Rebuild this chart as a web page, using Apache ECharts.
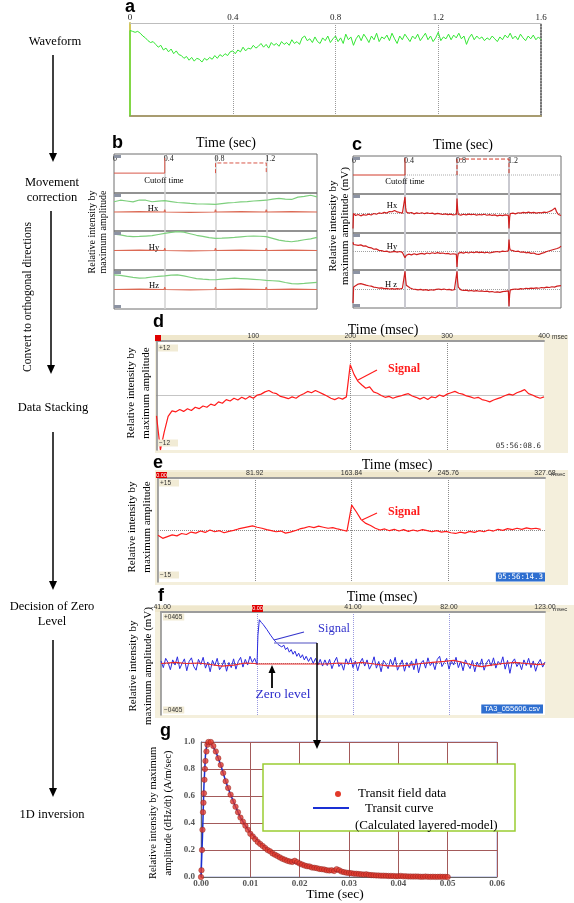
<!DOCTYPE html>
<html>
<head>
<meta charset="utf-8">
<title>TEM data processing flow</title>
<script src="https://cdn.jsdelivr.net/npm/echarts@6/dist/echarts.min.js"></script>
<style>
html,body{margin:0;padding:0;background:#fff;}
#chart{width:574px;height:903px;}
</style>
</head>
<body>
<div id="chart"></div>
<script>
// ================= DATA =================
// Panel a : raw waveform (sampled every 0.01 s)
const aStep = 0.01;
const aStart = 0;
const aWave = [
0.92,0.91,0.90,0.91,0.89,0.86,0.84,0.81,0.79,0.80,
0.77,0.74,0.76,0.71,0.73,0.69,0.72,0.67,0.70,0.66,
0.65,0.62,0.64,0.60,0.63,0.59,0.62,0.61,0.58,0.62,
0.60,0.63,0.61,0.65,0.62,0.66,0.64,0.67,0.65,0.69,
0.70,0.67,0.71,0.69,0.74,0.70,0.73,0.72,0.76,0.73,
0.75,0.78,0.74,0.77,0.73,0.79,0.76,0.78,0.75,0.80,
0.77,0.79,0.76,0.82,0.78,0.80,0.77,0.84,0.86,0.81,
0.83,0.79,0.85,0.80,0.78,0.84,0.81,0.86,0.79,0.83,
0.86,0.80,0.84,0.78,0.88,0.82,0.85,0.76,0.83,0.87,
0.81,0.88,0.84,0.79,0.86,0.82,0.89,0.80,0.85,0.83,
0.87,0.81,0.89,0.83,0.78,0.86,0.82,0.88,0.84,0.80,
0.86,0.83,0.88,0.81,0.85,0.89,0.82,0.86,0.80,0.84,
0.90,0.81,0.85,0.83,0.88,0.82,0.87,0.84,0.89,0.83,
0.86,0.77,0.84,0.88,0.82,0.86,0.83,0.85,0.81,0.84,
0.82,0.86,0.83,0.80,0.85,0.82,0.87,0.84,0.89,0.83,
0.86,0.82,0.88,0.84,0.81,0.86,0.83,0.87,0.82,0.85,
0.82];

// Panel b : movement correction (green = raw, red = corrected), step 0.05 s
const bStep = 0.05;
const bHxGreen = [0.54,0.62,0.58,0.53,0.63,0.62,0.54,0.57,0.60,0.55,0.50,0.48,0.45,0.43,0.42,0.41,0.40,0.44,0.48,0.50,0.53,0.55,0.58,0.60,0.62,0.68,0.72,0.68,0.66,0.78,0.82,0.88,0.80];
const bHyGreen = [0.84,0.80,0.74,0.71,0.72,0.74,0.76,0.82,0.88,0.93,0.97,0.94,0.86,0.78,0.72,0.66,0.62,0.63,0.65,0.67,0.70,0.73,0.74,0.73,0.71,0.62,0.53,0.48,0.45,0.49,0.55,0.60,0.67];
const bHzGreen = [0.75,0.72,0.67,0.62,0.58,0.60,0.64,0.67,0.70,0.74,0.75,0.70,0.63,0.56,0.53,0.51,0.50,0.53,0.56,0.58,0.56,0.54,0.52,0.50,0.47,0.45,0.43,0.36,0.30,0.29,0.31,0.34,0.37];
const bRedT = [0,0.2,0.395,0.4,0.405,0.6,0.795,0.8,0.805,1.0,1.195,1.2,1.205,1.4,1.6];
const bRedV = [0,0.02,0,0.12,0,-0.02,0,0.12,0,0.02,0,0.12,0,0.02,0];
const bCutSolid = [[0,0.51],[0.4,0.51],[0.4,0.9]];
const bCutDash = [[0.8,0.51],[0.8,0.77],[1.2,0.77],[1.2,0.51]];

// Panel c : orthogonal components
const cCutSolid = [[0,0.5],[0.4,0.5],[0.4,0.95]];
const cCutDash = [[0.8,0.5],[0.8,0.92],[1.2,0.92],[1.2,0.5]];
const cCutBase = [[0.4,0.5],[1.6,0.5]];
const cHx = [[0,-0.77],[0.004,0.0],[0.02,-0.1],[0.04,-0.05],[0.06,-0.12],[0.08,-0.06],[0.1,-0.09],[0.12,-0.03],[0.14,-0.08],[0.16,0.0],[0.18,-0.04],[0.2,0.03],[0.22,0.0],[0.24,0.06],[0.26,0.02],[0.28,0.1],[0.3,0.09],[0.32,0.15],[0.34,0.08],[0.36,0.05],[0.38,0.02],[0.395,0.03],[0.4,0.85],[0.405,0.3],[0.41,0.08],[0.43,0.02],[0.45,0.05],[0.47,-0.02],[0.49,0.03],[0.51,0.0],[0.53,0.04],[0.55,-0.01],[0.57,0.03],[0.59,0.0],[0.61,0.02],[0.63,-0.03],[0.65,0.01],[0.67,-0.02],[0.69,-0.05],[0.71,-0.02],[0.73,-0.06],[0.75,-0.03],[0.77,-0.07],[0.795,-0.05],[0.8,0.77],[0.805,0.2],[0.81,-0.05],[0.83,-0.08],[0.85,-0.04],[0.87,-0.07],[0.89,-0.03],[0.91,-0.06],[0.93,-0.04],[0.95,-0.08],[0.97,-0.05],[0.99,-0.07],[1.01,-0.04],[1.03,-0.09],[1.05,-0.06],[1.07,-0.1],[1.09,-0.07],[1.11,-0.12],[1.13,-0.08],[1.15,-0.11],[1.17,-0.07],[1.195,-0.1],[1.2,-0.77],[1.205,-0.2],[1.21,0.0],[1.23,0.02],[1.25,-0.02],[1.27,0.04],[1.29,0.02],[1.31,0.06],[1.33,0.03],[1.35,0.07],[1.37,0.03],[1.39,0.06],[1.41,0.02],[1.43,0.05],[1.45,0.03],[1.47,0.07],[1.49,0.05],[1.51,0.1],[1.53,0.16],[1.545,0.22],[1.555,0.28],[1.565,0.1],[1.58,-0.05],[1.6,-0.1]];
const cHy = [[0,0.5],[0.005,0.38],[0.02,0.4],[0.04,0.33],[0.06,0.36],[0.08,0.29],[0.1,0.3],[0.12,0.22],[0.14,0.2],[0.16,0.12],[0.18,0.14],[0.2,0.06],[0.22,0.05],[0.24,0.0],[0.26,0.02],[0.28,-0.04],[0.3,-0.02],[0.32,0.01],[0.34,-0.03],[0.36,0.0],[0.38,-0.05],[0.395,-0.06],[0.4,-0.34],[0.41,-0.2],[0.43,-0.14],[0.45,-0.18],[0.47,-0.12],[0.49,-0.17],[0.51,-0.13],[0.53,-0.1],[0.55,-0.14],[0.57,-0.08],[0.59,-0.12],[0.61,-0.07],[0.63,-0.11],[0.65,-0.06],[0.67,-0.1],[0.69,-0.08],[0.71,-0.12],[0.73,-0.1],[0.75,-0.15],[0.77,-0.12],[0.795,-0.16],[0.8,-0.83],[0.805,-0.3],[0.81,-0.1],[0.83,-0.05],[0.85,-0.09],[0.87,-0.04],[0.89,-0.08],[0.91,-0.03],[0.93,-0.07],[0.95,-0.02],[0.97,-0.06],[0.99,-0.03],[1.01,-0.07],[1.03,-0.04],[1.05,-0.08],[1.07,-0.05],[1.09,-0.02],[1.11,0.0],[1.13,-0.03],[1.15,0.02],[1.17,0.0],[1.195,0.03],[1.2,0.65],[1.205,0.2],[1.21,0.08],[1.23,0.05],[1.25,0.0],[1.27,0.02],[1.29,-0.04],[1.31,-0.02],[1.33,-0.07],[1.35,-0.05],[1.37,-0.1],[1.39,-0.08],[1.41,-0.14],[1.43,-0.16],[1.45,-0.1],[1.47,-0.06],[1.49,0.0],[1.51,0.04],[1.53,0.08],[1.55,0.12],[1.57,0.16],[1.59,0.22],[1.6,0.29]];
const cHz = [[0,-0.74],[0.005,0.1],[0.02,0.2],[0.04,0.26],[0.06,0.28],[0.08,0.24],[0.1,0.2],[0.12,0.17],[0.14,0.15],[0.16,0.1],[0.18,0.08],[0.2,0.05],[0.22,0.06],[0.24,0.02],[0.26,0.03],[0.28,0.0],[0.3,0.02],[0.32,-0.01],[0.34,0.02],[0.36,0.0],[0.38,0.04],[0.395,0.02],[0.4,0.93],[0.405,0.5],[0.41,0.2],[0.42,0.1],[0.44,0.05],[0.46,0.0],[0.48,-0.02],[0.5,-0.05],[0.52,-0.02],[0.54,-0.06],[0.56,-0.03],[0.58,-0.07],[0.6,-0.04],[0.62,-0.06],[0.64,-0.02],[0.66,0.0],[0.68,-0.03],[0.7,0.0],[0.72,-0.04],[0.74,-0.02],[0.76,-0.06],[0.78,-0.04],[0.795,-0.07],[0.8,0.93],[0.805,0.4],[0.81,0.1],[0.83,-0.05],[0.85,-0.08],[0.87,-0.06],[0.89,-0.1],[0.91,-0.08],[0.93,-0.11],[0.95,-0.09],[0.97,-0.12],[0.99,-0.1],[1.01,-0.13],[1.03,-0.11],[1.05,-0.15],[1.07,-0.13],[1.09,-0.17],[1.11,-0.15],[1.13,-0.18],[1.15,-0.14],[1.17,-0.12],[1.195,-0.1],[1.2,-0.91],[1.205,-0.3],[1.21,-0.05],[1.23,-0.02],[1.25,0.0],[1.27,-0.02],[1.29,0.02],[1.31,0.0],[1.33,0.04],[1.35,0.02],[1.37,0.05],[1.39,0.03],[1.41,0.06],[1.43,0.04],[1.45,0.08],[1.47,0.06],[1.49,0.1],[1.51,0.08],[1.53,0.12],[1.55,0.1],[1.57,0.15],[1.6,0.18]];

// Panel d : stacked data, step 4 ms
const dStep = 4;
const dSig = [
-4.5,-12,-8.0,-4.6,-3.4,-3.6,-3.1,-3.5,-2.9,-3.3,
-2.6,-2.9,-2.3,-2.6,-1.9,-2.2,-1.4,-1.7,-0.9,-1.2,
-0.6,-1.0,-0.4,-0.8,-0.2,-0.6,0.1,0.3,0.8,1.1,
0.6,0.4,-0.2,-0.4,-0.7,-0.3,-0.6,0.0,0.4,0.9,
0.6,1.1,0.7,0.3,-0.1,-0.6,-0.9,-0.5,-0.8,-0.3,
6.8,4.6,3.1,2.3,1.6,1.9,0.8,0.5,0.0,-0.4,
-0.2,-0.6,-0.3,-0.1,0.2,0.4,-0.1,-0.4,-0.8,-0.4,
-0.9,-0.3,-0.5,0.1,-0.2,0.3,0.6,0.9,0.5,0.3,
-0.1,-0.3,-0.6,-0.4,-0.9,-1.1,-1.4,-1.0,-0.7,-0.4,
0.0,0.3,0.1,0.6,0.9,1.3,0.4,0.1,-0.3,-0.6,
-0.3];

// Panel e : stacked data, step 4 ms
const eStep = 4;
const eSig = [
-1.5,-2.4,-1.9,-1.4,-1.7,-1.0,-1.3,-0.6,-0.9,-0.3,
-0.7,0.0,-0.5,-0.2,-0.8,-0.4,-0.1,0.3,0.6,0.9,
1.2,0.8,0.5,0.1,-0.2,-0.5,-0.3,-0.9,-0.6,-0.2,
0.3,0.6,1.0,0.7,1.1,0.8,0.5,0.7,0.3,0.0,
-0.3,7.2,5.2,3.0,1.9,1.3,0.5,0.0,0.3,-0.2,
0.2,-0.3,0.1,-0.4,0.0,-0.3,0.1,-0.2,-0.5,-0.2,
-0.6,-0.4,-0.8,-1.0,-0.6,-0.9,-0.4,-0.7,-0.2,-0.5,
0.0,-0.3,0.2,-0.1,0.4,0.1,0.5,0.2,0.6,0.3,
0.5,0.2];

// Panel f : zero level decision (blue = stacked data, red = zero level), step 1 ms
const fStep = 1;
const fPreStart = -41;
const fBluePre = [
0.05,-0.08,0.10,0.02,-0.12,0.07,-0.03,0.13,-0.10,0.00,
0.09,-0.14,0.04,0.11,-0.06,-0.13,0.08,-0.02,0.12,-0.09,
0.03,-0.16,0.06,-0.04,0.10,-0.12,-0.05,0.07,-0.15,0.02,
-0.08,0.09,-0.11,0.04,0.12,-0.07,0.08,-0.03,0.14,0.02,
0.10];
const fBlueSig = [[0,-0.02],[0.4,0.55],[1.0,0.85],[1.8,0.8],[2.6,0.76],[3.4,0.73],[4.2,0.66],[5.0,0.63],[5.8,0.55],[6.6,0.53],[7.4,0.45],[8.2,0.45],[9.0,0.37],[9.8,0.4],[10.6,0.32],[11.4,0.36],[12.2,0.27],[13.0,0.31],[13.8,0.22],[14.6,0.27],[15.4,0.18],[16.2,0.24],[17.0,0.14],[17.8,0.2],[18.6,0.11],[19.4,0.17],[20.2,0.07],[21,0.14],[22,0.04],[23,0.12],[24,0.0],[25,0.1],[26,-0.03],[27,0.08],[28,-0.05],[29,0.07],[30,-0.04]];
const fPostStart = 31;
const fBluePost = [
0.08,-0.10,0.03,0.12,-0.06,0.01,-0.13,0.09,-0.02,0.11,
-0.08,0.05,-0.14,0.02,0.10,-0.05,0.07,-0.11,-0.02,0.13,
-0.09,0.04,-0.16,0.06,0.00,-0.10,0.08,-0.04,0.12,-0.13,
-0.03,0.07,-0.15,0.02,-0.08,0.05,-0.12,0.09,-0.18,0.01,
0.06,-0.09,0.11,-0.04,0.03,-0.12,0.08,0.14,-0.06,0.02,
0.10,-0.11,0.05,-0.03,0.12,-0.08,0.04,-0.14,0.07,-0.02,
-0.10,0.06,-0.16,0.03,-0.07,0.09,-0.13,0.01,0.08,-0.05,
0.11,-0.09,0.04,-0.02,0.13,-0.11,0.06,-0.19,0.03,0.09,
-0.06,0.02,-0.12,0.07,-0.04,0.10,-0.08,0.05,-0.15,0.00,
0.08,-0.07,0.03];
const fZero = [[-41,0.0],[-35,0.02],[-30,0.0],[-25,0.01],[-20,-0.02],[-15,-0.05],[-10,-0.03],[-5,0.01],[-1,0.0],[0,-0.01],[30,-0.01],[35,0.01],[40,0.0],[45,0.02],[50,-0.01],[55,-0.04],[60,-0.05],[65,-0.03],[70,0.0],[75,0.02],[80,0.04],[84,0.06],[88,0.02],[92,-0.03],[96,-0.06],[100,-0.03],[105,0.0],[110,0.02],[115,0.0],[120,-0.02],[123,-0.01]];

// Panel g : 1D inversion (normalised dHz/dt)
const gRise = [[0,0],[0.0001,0.05],[0.0002,0.2],[0.0003,0.35],[0.0004,0.48],[0.0005,0.55],[0.0006,0.62],[0.0007,0.72],[0.0008,0.8],[0.0009,0.86],[0.0011,0.93],[0.0013,0.98]];
const gDecayStart = 0.0015, gDecayStep = 0.0005;
const gDecay = [
1.00,1.00,0.97,0.93,0.88,0.83,0.77,0.71,0.66,0.61,
0.56,0.52,0.48,0.44,0.41,0.38,0.35,0.32,0.30,0.28,
0.26,0.245,0.23,0.215,0.20,0.19,0.175,0.165,0.155,0.145,
0.135,0.128,0.12,0.115,0.112,0.12,0.11,0.10,0.092,0.085,
0.08,0.078,0.07,0.068,0.065,0.06,0.058,0.055,0.05,0.048,
0.05,0.045,0.058,0.05,0.04,0.036,0.032,0.03,0.028,0.025,
0.024,0.022,0.02,0.018,0.02,0.016,0.014,0.013,0.012,0.011,
0.01,0.01,0.009,0.008,0.008,0.007,0.006,0.006,0.008,0.005,
0.005,0.004,0.004,0.003,0.004,0.003,0.002,0.002,0.003,0.002,
0.001,0.002,0.001,0.001,0.002,0.001,0.001,0.0];
const gCurve = [[0,0],[0.0003,0.3],[0.0006,0.68],[0.0009,0.9],[0.0012,0.99],[0.0016,1.0],[0.002,0.99],[0.003,0.93],[0.004,0.83],[0.005,0.71],[0.006,0.61],[0.007,0.52],[0.008,0.44],[0.009,0.38],[0.010,0.33],[0.012,0.25],[0.014,0.19],[0.016,0.145],[0.018,0.115],[0.020,0.095],[0.022,0.078],[0.024,0.062],[0.026,0.05],[0.028,0.04],[0.030,0.032],[0.033,0.022],[0.036,0.015],[0.040,0.009],[0.045,0.004],[0.050,0.001]];

// ================= BUILD =================
const SERIF = 'Liberation Serif', SANS = 'Liberation Sans', MONO = 'DejaVu Sans Mono';
const grids = [], xAxis = [], yAxis = [], series = [], gfx = [];
const seq = (t0, step, vals) => vals.map((v, i) => [+(t0 + i * step).toFixed(6), v]);
const zip = (ts, vs) => ts.map((t, i) => [t, vs[i]]);
function AL(color, width, type) { return {show: true, onZero: false, lineStyle: {color: color, width: width || 1, type: type || 'solid'}}; }
function addGrid(o) { grids.push(Object.assign({containLabel: false}, o)); return grids.length - 1; }
function ax(gi, min, max, extra) {
  return Object.assign({type: 'value', gridIndex: gi, min: min, max: max,
    axisLine: {show: false, onZero: false}, axisTick: {show: false},
    axisLabel: {show: false}, splitLine: {show: false}}, extra || {});
}
function addX(o) { xAxis.push(o); return xAxis.length - 1; }
function addY(o) { yAxis.push(o); return yAxis.length - 1; }
function addLine(xi, yi, data, color, width, type, z) {
  series.push({type: 'line', xAxisIndex: xi, yAxisIndex: yi, data: data, symbol: 'none', showSymbol: false,
    silent: true, z: z || 2, lineStyle: {color: color, width: width || 1, type: type || 'solid'}, itemStyle: {color: color}});
}
function txt(text, x, y, o) {
  o = o || {};
  return {type: 'text', x: x, y: y, z: o.z || 30, rotation: o.rot || 0,
    style: {text: text, fill: o.color || '#000', fontSize: o.size || 12, fontFamily: o.font || SERIF,
      fontWeight: o.weight || 'normal', align: o.align || 'center', verticalAlign: o.valign || 'middle',
      lineHeight: o.lh, backgroundColor: o.bg, padding: o.pad}};
}
function ln(x1, y1, x2, y2, color, w, dash) {
  return {type: 'line', z: 30, shape: {x1: x1, y1: y1, x2: x2, y2: y2}, style: {stroke: color || '#000', lineWidth: w || 1, lineDash: dash}};
}
function poly(points, color) { return {type: 'polygon', z: 30, shape: {points: points}, style: {fill: color || '#000'}}; }
function rect(x, y, w, h, fill, stroke, z, lw) {
  return {type: 'rect', z: (z === undefined ? -10 : z), shape: {x: x, y: y, width: w, height: h}, style: {fill: fill || 'none', stroke: stroke || 'none', lineWidth: lw || 1}};
}
function arrowDown(x, y1, y2, w) { gfx.push(ln(x, y1, x, y2 - 6, '#000', w || 1.5)); gfx.push(poly([[x - 4, y2 - 9], [x + 4, y2 - 9], [x, y2]], '#000')); }
function arrowUp(x, y1, y2, w) { gfx.push(ln(x, y1, x, y2 + 6, '#000', w || 1.5)); gfx.push(poly([[x - 3.5, y2 + 8], [x + 3.5, y2 + 8], [x, y2]], '#000')); }

// ---- flow column ----
gfx.push(txt('Waveform', 55, 42, {size: 12.5}));
arrowDown(53, 55, 162);
gfx.push(txt('Movement\ncorrection', 52, 190, {size: 12.5, lh: 15}));
arrowDown(51, 211, 374);
gfx.push(txt('Convert to orthogonal directions', 28, 297, {size: 11.5, rot: Math.PI / 2}));
gfx.push(txt('Data Stacking', 53, 408, {size: 12.5}));
arrowDown(53, 432, 590);
gfx.push(txt('Decision of Zero\nLevel', 52, 614, {size: 12.5, lh: 15}));
arrowDown(53, 640, 797);
gfx.push(txt('1D inversion', 52, 815, {size: 12.5}));

// ---- panel a ----
(function () {
  const gi = addGrid({left: 130, top: 23, width: 411, height: 93});
  const xi = addX(ax(gi, 0, 1.6, {interval: 0.4, position: 'top', axisLine: AL('#bdbdbd', 1),
    axisLabel: {show: true, margin: 1, fontSize: 9, fontFamily: SERIF, color: '#222', formatter: v => v === 0 ? '0' : v.toFixed(1)},
    splitLine: {show: true, showMinLine: false, showMaxLine: false, lineStyle: {type: 'dotted', color: '#9a9a9a'}}}));
  addX(ax(gi, 0, 1.6, {position: 'bottom', axisLine: AL('#a89c70', 2)}));
  const yi = addY(ax(gi, 0, 1, {position: 'left', axisLine: AL('#d2c85a', 2)}));
  addY(ax(gi, 0, 1, {position: 'right', axisLine: AL('#444', 1.5, 'dotted')}));
  addLine(xi, yi, [[0, aStart]].concat(seq(0, aStep, aWave)), '#33e633', 1);
  gfx.push(txt('a', 125, 7, {font: SANS, weight: 'bold', size: 18, align: 'left'}));
})();

// ---- panels b & c ----
function subPanels(left, width, bands, vColor, vWidth, tagX) {
  const out = [];
  bands.forEach((b, k) => {
    const gi = addGrid({left: left, top: b[0], width: width, height: b[1], show: true, borderColor: '#6f6f6f', borderWidth: 1});
    const xo = {interval: 0.4, splitLine: {show: true, showMinLine: false, showMaxLine: false, lineStyle: {color: vColor, width: vWidth}}};
    if (k === 0) {
      xo.position = 'top';
      xo.axisLabel = {show: true, inside: true, margin: 1, fontSize: 8, fontFamily: SERIF, color: '#222', align: 'left',
        padding: [0, 0, 0, -1], showMaxLabel: false, formatter: v => v === 0 ? '0' : v.toFixed(1)};
    }
    const xi = addX(ax(gi, 0, 1.6, xo));
    const yi = addY(k === 0 ? ax(gi, 0, 1) : ax(gi, -1, 1));
    out.push([xi, yi]);
    gfx.push(rect(tagX, b[0] + 1, 7, 3, '#8c93a3', null, 25));
  });
  gfx.push(rect(tagX, bands[3][0] + bands[3][1] - 4, 7, 3, '#8c93a3', null, 25));
  return out;
}
(function () {
  const p = subPanels(114, 203, [[154, 39], [193, 38], [231, 39], [270, 39]], '#d2d2d2', 1.5, 114);
  addLine(p[0][0], p[0][1], bCutSolid, '#d8584a', 1);
  addLine(p[0][0], p[0][1], bCutDash, '#d8584a', 1, 'dashed');
  const greens = [bHxGreen, bHyGreen, bHzGreen];
  for (let k = 0; k < 3; k++) {
    addLine(p[k + 1][0], p[k + 1][1], seq(0, bStep, greens[k]), '#7dcf7d', 1.2);
    addLine(p[k + 1][0], p[k + 1][1], zip(bRedT, bRedV), '#dc6a55', 1.2);
  }
  gfx.push(txt('b', 112, 143, {font: SANS, weight: 'bold', size: 18, align: 'left'}));
  gfx.push(txt('Time (sec)', 226, 143, {size: 14}));
  gfx.push(txt('Cutoff time', 164, 181, {size: 8.5}));
  gfx.push(txt('Hx', 153, 209, {size: 8.5}));
  gfx.push(txt('Hy', 154, 248, {size: 8.5}));
  gfx.push(txt('Hz', 154, 286, {size: 8.5}));
  gfx.push(txt('Relative intensity by', 92, 232, {size: 10, rot: Math.PI / 2}));
  gfx.push(txt('maximum amplitude', 103, 232, {size: 10, rot: Math.PI / 2}));
})();
(function () {
  const p = subPanels(353, 208, [[156, 38], [194, 39], [233, 37], [270, 38]], '#c9c9d0', 2, 353);
  addLine(p[0][0], p[0][1], cCutBase, '#aaaaaa', 1, 'dotted');
  addLine(p[0][0], p[0][1], cCutSolid, '#d23a2a', 1);
  addLine(p[0][0], p[0][1], cCutDash, '#d23a2a', 1, 'dashed');
  const reds = [cHx, cHy, cHz];
  for (let k = 0; k < 3; k++) {
    const xi = p[k + 1][0], yi = p[k + 1][1];
    yAxis[yi].interval = 1;
    yAxis[yi].splitLine = {show: true, showMinLine: false, showMaxLine: false, lineStyle: {type: 'dotted', color: '#a0a0a0'}};
    addLine(xi, yi, reds[k], '#cf1f1f', 1.2);
  }
  gfx.push(txt('c', 352, 145, {font: SANS, weight: 'bold', size: 18, align: 'left'}));
  gfx.push(txt('Time (sec)', 463, 145, {size: 14}));
  gfx.push(txt('Cutoff time', 405, 182, {size: 8.5}));
  gfx.push(txt('Hx', 392, 206, {size: 8.5}));
  gfx.push(txt('Hy', 392, 247, {size: 8.5}));
  gfx.push(txt('H z', 391, 285, {size: 8.5}));
  gfx.push(txt('Relative intensity by', 333, 226, {size: 11, rot: Math.PI / 2}));
  gfx.push(txt('maximum amplitude (mV)', 345, 226, {size: 11, rot: Math.PI / 2}));
})();

// ---- stacked-data panels helper ----
function stackPanel(o) {
  gfx.push(rect(o.frame[0], o.frame[1], o.frame[2], o.frame[3], '#f4efdc', null, -10));
  gfx.push(rect(o.frame[0], o.top - 6, o.frame[2] - 24, 6, '#efe7cc', null, -9));
  const gi = addGrid({left: o.left, top: o.top, width: o.width, height: o.height, show: true, backgroundColor: '#fff', borderColor: 'transparent', borderWidth: 0});
  const xi = addX(ax(gi, o.xmin, o.xmax, {interval: o.xint, position: 'top', axisLine: AL('#9c9c9c', 2),
    axisLabel: {show: true, margin: 1, fontSize: 7, fontFamily: SANS, color: '#333', showMinLabel: o.showMin, formatter: o.fmt},
    splitLine: {show: true, showMinLine: false, showMaxLine: false, lineStyle: {type: 'dotted', color: o.vcol || '#8a8a8a'}}}));
  const yi = addY(ax(gi, o.ymin, o.ymax, {interval: o.ymax, axisLine: AL('#8a8a8a', 1.5),
    splitLine: {show: true, showMinLine: false, showMaxLine: false, lineStyle: {type: 'dotted', color: '#8a8a8a'}}}));
  return [xi, yi];
}

// ---- panel d ----
(function () {
  const p = stackPanel({frame: [155, 335, 413, 118], left: 156.5, top: 341, width: 387.5, height: 109,
    xmin: 0, xmax: 400, xint: 100, showMin: false, fmt: v => String(v), ymin: -12, ymax: 12});
  addLine(p[0], p[1], seq(0, dStep, dSig), '#ff1c1c', 1.2);
  gfx.push(rect(155, 335, 6, 6, '#e00000', null, 25));
  gfx.push(txt('msec', 552, 337, {font: SANS, size: 6.5, align: 'left', color: '#333'}));
  gfx.push(txt('+12', 158, 348, {font: SANS, size: 6.5, align: 'left', color: '#333', bg: '#f1ebd5', pad: [0, 8, 0, 1]}));
  gfx.push(txt('\u221212', 158, 443, {font: SANS, size: 6.5, align: 'left', color: '#333', bg: '#f1ebd5', pad: [0, 8, 0, 1]}));
  gfx.push(txt('05:56:08.6', 541, 446, {font: MONO, size: 7.5, align: 'right', color: '#333'}));
  gfx.push(txt('d', 153, 322, {font: SANS, weight: 'bold', size: 18, align: 'left'}));
  gfx.push(txt('Time (msec)', 383, 330, {size: 14}));
  gfx.push(txt('Signal', 388, 369, {size: 12, weight: 'bold', color: '#ff1c1c', align: 'left'}));
  gfx.push(ln(377, 370, 358, 380, '#ff1c1c', 1.2));
  gfx.push(txt('Relative intensity by', 131, 393, {size: 11, rot: Math.PI / 2}));
  gfx.push(txt('maximum amplitude', 146, 393, {size: 11, rot: Math.PI / 2}));
})();

// ---- panel e ----
(function () {
  const p = stackPanel({frame: [155, 470, 413, 115], left: 158, top: 478, width: 387, height: 104,
    xmin: 0, xmax: 327.68, xint: 81.92, showMin: false, fmt: v => v.toFixed(2), ymin: -15, ymax: 15});
  addLine(p[0], p[1], seq(0, eStep, eSig), '#ff1c1c', 1.2);
  gfx.push(rect(156, 472, 11, 6, '#e00000', null, 25));
  gfx.push(txt('0.00', 161.5, 475, {font: SANS, size: 5.5, color: '#fff', z: 26}));
  gfx.push(txt('msec', 551, 474, {font: SANS, size: 6, align: 'left', color: '#333'}));
  gfx.push(txt('+15', 159, 483, {font: SANS, size: 6.5, align: 'left', color: '#333', bg: '#f1ebd5', pad: [0, 8, 0, 1]}));
  gfx.push(txt('\u221215', 159, 575, {font: SANS, size: 6.5, align: 'left', color: '#333', bg: '#f1ebd5', pad: [0, 8, 0, 1]}));
  gfx.push(txt('05:56:14.3', 545, 577, {font: MONO, size: 7.5, align: 'right', color: '#fff', bg: '#2f6fd0', pad: [1, 2, 0, 2]}));
  gfx.push(txt('e', 153, 463, {font: SANS, weight: 'bold', size: 18, align: 'left'}));
  gfx.push(txt('Time (msec)', 397, 465, {size: 14}));
  gfx.push(txt('Signal', 388, 512, {size: 12, weight: 'bold', color: '#ff1c1c', align: 'left'}));
  gfx.push(ln(377, 513, 362, 520, '#ff1c1c', 1.2));
  gfx.push(txt('Relative intensity by', 132, 527, {size: 11, rot: Math.PI / 2}));
  gfx.push(txt('maximum amplitude', 147, 527, {size: 11, rot: Math.PI / 2}));
})();

// ---- panel f ----
(function () {
  const p = stackPanel({frame: [155, 605, 419, 113], left: 161, top: 612, width: 384, height: 103,
    xmin: -41, xmax: 123, xint: 41, showMin: true, vcol: '#9a9ae0', fmt: v => v === 0 ? '' : v.toFixed(2), ymin: -1, ymax: 1});
  const blue = seq(fPreStart, fStep, fBluePre).concat(fBlueSig, seq(fPostStart, fStep, fBluePost));
  addLine(p[0], p[1], blue, '#2b2be0', 1);
  addLine(p[0], p[1], fZero, '#ee2a2a', 1.2, 'solid', 3);
  gfx.push(rect(252, 605, 11, 7, '#e00000', null, 25));
  gfx.push(txt('0.00', 257.5, 608.5, {font: SANS, size: 5.5, color: '#fff', z: 26}));
  gfx.push(txt('msec', 553, 609, {font: SANS, size: 6, align: 'left', color: '#333'}));
  gfx.push(txt('+0465', 163, 617, {font: SANS, size: 6.5, align: 'left', color: '#333', bg: '#f1ebd5', pad: [0, 2, 0, 1]}));
  gfx.push(txt('\u22120465', 163, 710, {font: SANS, size: 6.5, align: 'left', color: '#333', bg: '#f1ebd5', pad: [0, 2, 0, 1]}));
  gfx.push(txt('TA3_055606.csv', 543, 709, {font: SANS, size: 7.5, align: 'right', color: '#fff', bg: '#2f6fd0', pad: [1, 3, 0, 3]}));
  gfx.push(txt('f', 158, 596, {font: SANS, weight: 'bold', size: 18, align: 'left'}));
  gfx.push(txt('Time (msec)', 382, 597, {size: 14}));
  gfx.push(txt('Signal', 318, 629, {size: 12.5, color: '#3333cc', align: 'left'}));
  gfx.push(ln(304, 632, 274, 640, '#3333cc', 1.2));
  gfx.push(ln(274, 643, 317, 643, '#8a8ad6', 1.5));
  gfx.push(ln(317, 643, 317, 740, '#000', 1.5));
  gfx.push(poly([[313, 740], [321, 740], [317, 749]], '#000'));
  gfx.push(txt('Zero level', 283, 694, {size: 13.5, color: '#2b2bcc'}));
  arrowUp(272, 688, 665, 1.8);
  gfx.push(txt('Relative intensity by', 133, 666, {size: 11, rot: Math.PI / 2}));
  gfx.push(txt('maximum amplitude (mV)', 148, 666, {size: 11, rot: Math.PI / 2}));
})();

// ---- panel g ----
(function () {
  const gi = addGrid({left: 201, top: 742, width: 296, height: 135, show: true, borderColor: '#a6acdc', borderWidth: 1});
  const xi = addX(ax(gi, 0, 0.06, {interval: 0.01, position: 'bottom', axisLine: AL('#666', 1),
    axisLabel: {show: true, margin: 2, fontSize: 9, fontWeight: 'bold', fontFamily: SERIF, color: '#555', formatter: v => v.toFixed(2)},
    splitLine: {show: true, lineStyle: {color: '#a35a5a', width: 1}}}));
  const yi = addY(ax(gi, 0, 1, {interval: 0.2, position: 'left', axisLine: AL('#666', 1),
    axisLabel: {show: true, margin: 6, fontSize: 9, fontWeight: 'bold', fontFamily: SERIF, color: '#555', formatter: v => v.toFixed(1)},
    splitLine: {show: true, lineStyle: {color: '#a35a5a', width: 1}}}));
  addLine(xi, yi, gCurve, '#1a30d4', 1.5, 'solid', 3);
  series.push({type: 'scatter', xAxisIndex: xi, yAxisIndex: yi, z: 4, silent: true, symbolSize: 5.5,
    itemStyle: {color: '#e23a2a', borderColor: '#7d1a1a', borderWidth: 0.5},
    data: gRise.concat(seq(gDecayStart, gDecayStep, gDecay))});
  gfx.push(txt('g', 160, 731, {font: SANS, weight: 'bold', size: 18, align: 'left'}));
  gfx.push(txt('Time (sec)', 335, 894, {size: 13.5}));
  gfx.push(txt('Relative intensity by maximum', 153, 813, {size: 10.5, rot: Math.PI / 2}));
  gfx.push(txt('amplitude (dHz/dt) (A/m/sec)', 168, 813, {size: 10.5, rot: Math.PI / 2}));
  gfx.push(rect(263, 764, 252, 67, '#fff', '#9acd32', 40, 1.5));
  gfx.push({type: 'circle', z: 41, shape: {cx: 338, cy: 794, r: 3}, style: {fill: '#e23a2a'}});
  gfx.push(Object.assign(txt('Transit field data', 358, 794, {size: 13, align: 'left'}), {z: 41}));
  gfx.push(Object.assign(ln(313, 808, 349, 808, '#1a30d4', 2), {z: 41}));
  gfx.push(Object.assign(txt('Transit curve', 365, 809, {size: 13, align: 'left'}), {z: 41}));
  gfx.push(Object.assign(txt('(Calculated layered-model)', 355, 826, {size: 13, align: 'left'}), {z: 41}));
})();

const chart = echarts.init(document.getElementById('chart'), null, {renderer: 'canvas'});
chart.setOption({
  backgroundColor: '#fff',
  animation: false,
  grid: grids,
  xAxis: xAxis,
  yAxis: yAxis,
  series: series,
  graphic: {elements: gfx}
});
</script>
</body>
</html>
